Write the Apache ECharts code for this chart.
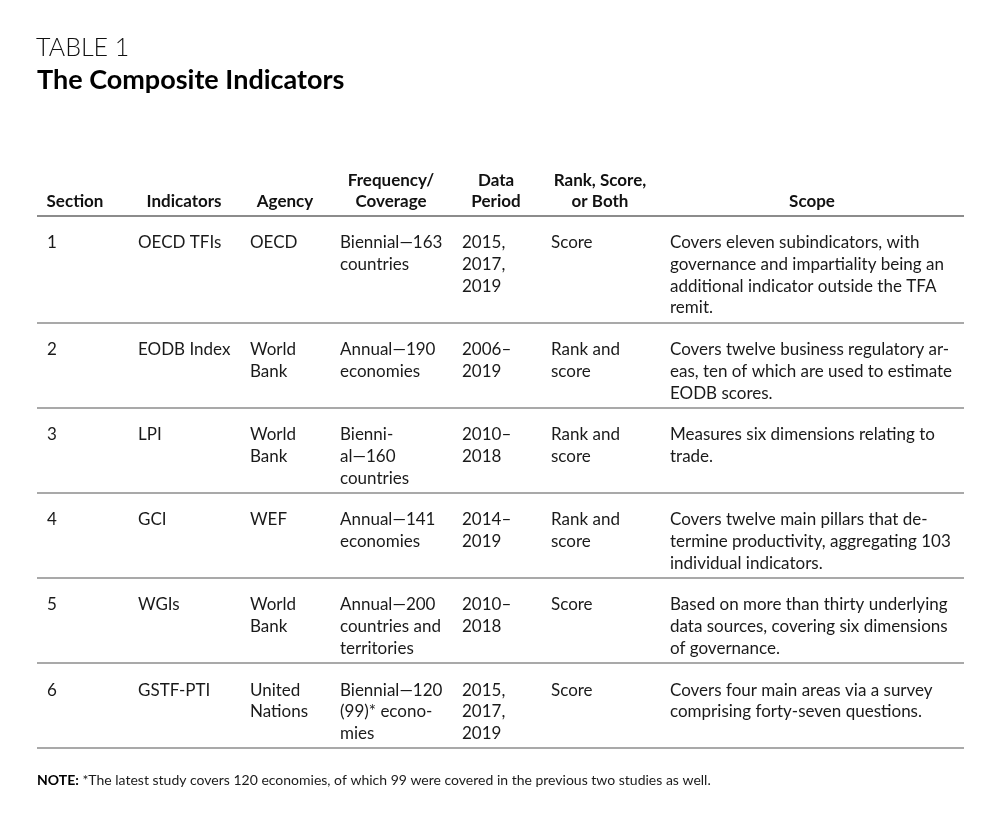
<!DOCTYPE html>
<html>
<head>
<meta charset="utf-8">
<title>The Composite Indicators</title>
<script src="https://cdn.jsdelivr.net/npm/echarts@6/dist/echarts.min.js"></script>
<style>
  html, body { margin: 0; padding: 0; background: #fff; }
  #chart { width: 1000px; height: 815px; }
</style>
</head>
<body>
<div id="chart"></div>
<script>
// table content, line breaks as in the printed table
const headers = ["Section", "Indicators", "Agency", "Frequency/\nCoverage", "Data\nPeriod", "Rank, Score,\nor Both", "Scope"];
const sections = ["1", "2", "3", "4", "5", "6"];
const indicators = ["OECD TFIs", "EODB Index", "LPI", "GCI", "WGIs", "GSTF-PTI"];
const agencies = ["OECD", "World\nBank", "World\nBank", "WEF", "World\nBank", "United\nNations"];
const frequencies = [
  "Biennial\u2014163\ncountries",
  "Annual\u2014190\neconomies",
  "Bienni-\nal\u2014160\ncountries",
  "Annual\u2014141\neconomies",
  "Annual\u2014200\ncountries and\nterritories",
  "Biennial\u2014120\n(99)* econo-\nmies"
];
const periods = ["2015,\n2017,\n2019", "2006\u2013\n2019", "2010\u2013\n2018", "2014\u2013\n2019", "2010\u2013\n2018", "2015,\n2017,\n2019"];
const rankScore = ["Score", "Rank and\nscore", "Rank and\nscore", "Rank and\nscore", "Score", "Score"];
const scopes = [
  "Covers eleven subindicators, with\ngovernance and impartiality being an\nadditional indicator outside the TFA\nremit.",
  "Covers twelve business regulatory ar-\neas, ten of which are used to estimate\nEODB scores.",
  "Measures six dimensions relating to\ntrade.",
  "Covers twelve main pillars that de-\ntermine productivity, aggregating 103\nindividual indicators.",
  "Based on more than thirty underlying\ndata sources, covering six dimensions\nof governance.",
  "Covers four main areas via a survey\ncomprising forty-seven questions."
];
const tableTitle = "TABLE 1";
const tableSubtitle = "The Composite Indicators";
const noteLabel = "NOTE:";
const noteText = " *The latest study covers 120 economies, of which 99 were covered in the previous two studies as well.";

// layout
const FONT = "Lato";
const columnEdges = [37, 128, 240, 330, 452, 541, 660, 964];
const headerCenters = [75, 184, 285, 391, 496, 600, 812];
const cellPad = 10;
const lineH = 21.7;
const headerRuleY = 216;
const rowTopPad = 16;
const rowBottomPad = 4;

const columns = [sections, indicators, agencies, frequencies, periods, rankScore, scopes];

const chart = echarts.init(document.getElementById("chart"));
const graphics = [];

graphics.push({
  type: "text", left: 36, top: 35,
  style: { text: tableTitle, font: "300 25px " + FONT, fill: "#111" }
});
graphics.push({
  type: "text", left: 37, top: 67,
  style: { text: tableSubtitle, font: "bold 27px " + FONT, fill: "#000" }
});

// header cells, bottom aligned
headers.forEach(function (h, i) {
  graphics.push({
    type: "text", x: headerCenters[i], y: 212,
    style: {
      text: h, font: "bold 17px " + FONT, fill: "#111",
      align: "center", verticalAlign: "bottom", lineHeight: 21
    }
  });
});

graphics.push({
  type: "line", shape: { x1: columnEdges[0], y1: headerRuleY, x2: columnEdges[7], y2: headerRuleY },
  style: { stroke: "#8c8c8c", lineWidth: 2 }
});

let y = headerRuleY;
sections.forEach(function (s, r) {
  let maxLines = 1;
  columns.forEach(function (col, c) {
    const txt = col[r];
    maxLines = Math.max(maxLines, txt.split("\n").length);
    graphics.push({
      type: "text", x: columnEdges[c] + cellPad, y: y + rowTopPad,
      style: {
        text: txt, font: "17px " + FONT, fill: "#1a1a1a",
        align: "left", verticalAlign: "top", lineHeight: lineH
      }
    });
  });
  y += rowTopPad + maxLines * lineH + rowBottomPad;
  const ly = Math.round(y);
  graphics.push({
    type: "line", shape: { x1: columnEdges[0], y1: ly, x2: columnEdges[7], y2: ly },
    style: { stroke: "#8c8c8c", lineWidth: 1.5 }
  });
});

graphics.push({
  type: "text", left: 37, top: 773,
  style: {
    text: "{b|" + noteLabel + "}" + noteText,
    font: "14px " + FONT, fill: "#1a1a1a",
    rich: { b: { font: "bold 14px " + FONT, fill: "#000" } }
  }
});

chart.setOption({
  animation: false,
  backgroundColor: "#fff",
  graphic: { elements: graphics }
});
</script>
</body>
</html>
